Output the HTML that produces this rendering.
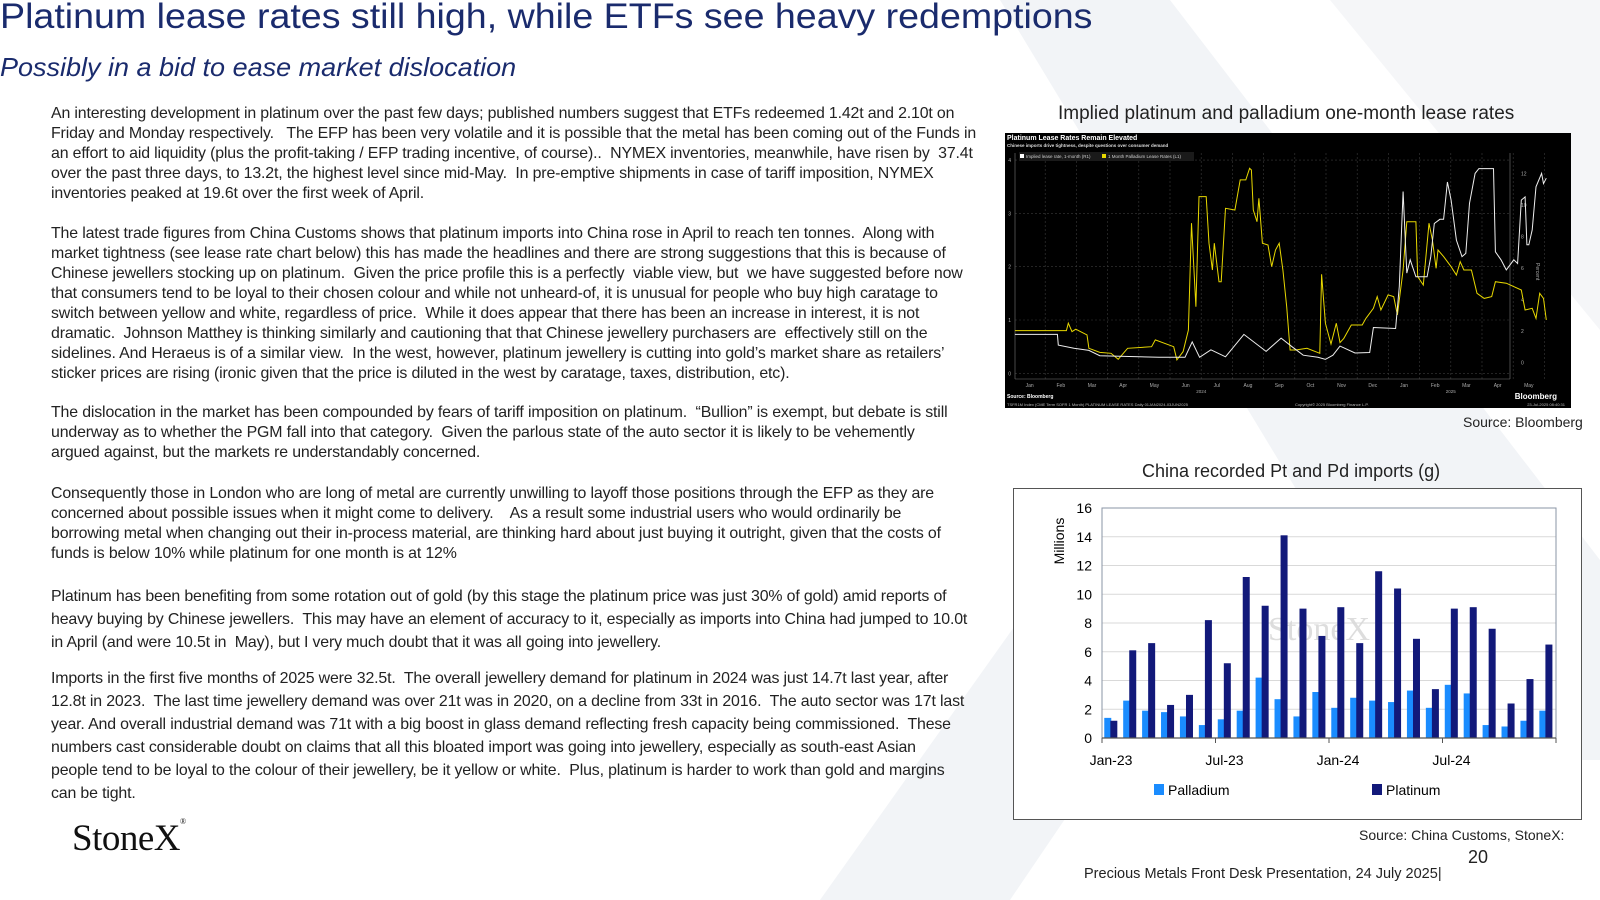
<!DOCTYPE html>
<html><head><meta charset="utf-8">
<style>
html,body{margin:0;padding:0;background:#fff;}
#page{position:relative;width:1600px;height:900px;overflow:hidden;font-family:"Liberation Sans",sans-serif;color:#222;}
.t{position:absolute;white-space:nowrap;transform-origin:0 0;}
.p{position:absolute;left:51px;font-size:15.9px;white-space:nowrap;color:#222;letter-spacing:-0.15px;}
.p div{height:20px;line-height:20px;}
.p.l23 div{height:23px;line-height:23px;}
</style></head>
<body>
<div id="page">
<svg style="position:absolute;left:0;top:0" width="1600" height="900">
<polygon points="1000,0 1170,0 1600,560 1600,760 1460,760" fill="#f2f4f7"/>
<polygon points="820,900 1090,520 1200,620 1010,900" fill="#f2f4f7"/>
<polygon points="1330,0 1600,0 1600,330" fill="#f5f6f8"/>
</svg>
<div class="t" id="title" style="left:0;top:-3px;font-size:35px;color:#1a2b6d;">Platinum lease rates still high, while ETFs see heavy redemptions</div>
<div class="t" id="subtitle" style="left:0;top:52px;font-size:26px;font-style:italic;color:#1a2b6d;">Possibly in a bid to ease market dislocation</div>

<div class="p" style="top:104px">
<div>An interesting development in platinum over the past few days; published numbers suggest that ETFs redeemed 1.42t and 2.10t on</div>
<div>Friday and Monday respectively.&nbsp;&nbsp; The EFP has been very volatile and it is possible that the metal has been coming out of the Funds in</div>
<div>an effort to aid liquidity (plus the profit-taking / EFP trading incentive, of course)..&nbsp; NYMEX inventories, meanwhile, have risen by&nbsp; 37.4t</div>
<div>over the past three days, to 13.2t, the highest level since mid-May.&nbsp; In pre-emptive shipments in case of tariff imposition, NYMEX</div>
<div>inventories peaked at 19.6t over the first week of April.</div>
</div>
<div class="p" style="top:224px">
<div>The latest trade figures from China Customs shows that platinum imports into China rose in April to reach ten tonnes.&nbsp; Along with</div>
<div>market tightness (see lease rate chart below) this has made the headlines and there are strong suggestions that this is because of</div>
<div>Chinese jewellers stocking up on platinum.&nbsp; Given the price profile this is a perfectly&nbsp; viable view, but&nbsp; we have suggested before now</div>
<div>that consumers tend to be loyal to their chosen colour and while not unheard-of, it is unusual for people who buy high caratage to</div>
<div>switch between yellow and white, regardless of price.&nbsp; While it does appear that there has been an increase in interest, it is not</div>
<div>dramatic.&nbsp; Johnson Matthey is thinking similarly and cautioning that that Chinese jewellery purchasers are&nbsp; effectively still on the</div>
<div>sidelines. And Heraeus is of a similar view.&nbsp; In the west, however, platinum jewellery is cutting into gold’s market share as retailers’</div>
<div>sticker prices are rising (ironic given that the price is diluted in the west by caratage, taxes, distribution, etc).</div>
</div>
<div class="p" style="top:403px">
<div>The dislocation in the market has been compounded by fears of tariff imposition on platinum.&nbsp; “Bullion” is exempt, but debate is still</div>
<div>underway as to whether the PGM fall into that category.&nbsp; Given the parlous state of the auto sector it is likely to be vehemently</div>
<div>argued against, but the markets re understandably concerned.</div>
</div>
<div class="p" style="top:484px">
<div>Consequently those in London who are long of metal are currently unwilling to layoff those positions through the EFP as they are</div>
<div>concerned about possible issues when it might come to delivery.&nbsp;&nbsp;&nbsp; As a result some industrial users who would ordinarily be</div>
<div>borrowing metal when changing out their in-process material, are thinking hard about just buying it outright, given that the costs of</div>
<div>funds is below 10% while platinum for one month is at 12%</div>
</div>
<div class="p l23" style="top:585px">
<div>Platinum has been benefiting from some rotation out of gold (by this stage the platinum price was just 30% of gold) amid reports of</div>
<div>heavy buying by Chinese jewellers.&nbsp; This may have an element of accuracy to it, especially as imports into China had jumped to 10.0t</div>
<div>in April (and were 10.5t in&nbsp; May), but I very much doubt that it was all going into jewellery.</div>
</div>
<div class="p l23" style="top:667px">
<div>Imports in the first five months of 2025 were 32.5t.&nbsp; The overall jewellery demand for platinum in 2024 was just 14.7t last year, after</div>
<div>12.8t in 2023.&nbsp; The last time jewellery demand was over 21t was in 2020, on a decline from 33t in 2016.&nbsp; The auto sector was 17t last</div>
<div>year. And overall industrial demand was 71t with a big boost in glass demand reflecting fresh capacity being commissioned.&nbsp; These</div>
<div>numbers cast considerable doubt on claims that all this bloated import was going into jewellery, especially as south-east Asian</div>
<div>people tend to be loyal to the colour of their jewellery, be it yellow or white.&nbsp; Plus, platinum is harder to work than gold and margins</div>
<div>can be tight.</div>
</div>

<div class="t" style="left:72px;top:817px;font-family:'Liberation Serif',serif;font-size:37px;color:#111;letter-spacing:-0.5px;">StoneX<span style="font-size:8px;vertical-align:top;">®</span></div>

<div class="t" style="left:1058px;top:103px;font-size:19px;color:#222;">Implied platinum and palladium one-month lease rates</div>
<div class="t" style="left:1463px;top:414px;font-size:14px;color:#222;">Source: Bloomberg</div>
<div class="t" style="left:1142px;top:461px;font-size:18px;color:#222;">China recorded Pt and Pd imports (g)</div>
<div class="t" style="left:1359px;top:827px;font-size:14px;color:#222;">Source: China Customs, StoneX:</div>
<div class="t" style="left:1468px;top:847px;font-size:18px;color:#222;">20</div>
<div class="t" style="left:1084px;top:866px;font-size:14.5px;color:#222;">Precious Metals Front Desk Presentation, 24 July 2025|</div>

<svg id="lease" style="position:absolute;left:1005px;top:133px" width="566" height="275"></svg>
<svg id="imports" style="position:absolute;left:0;top:0" width="1600" height="900"></svg>
</div>
<script>
// ---------- Lease rate chart data (month index: 0 = Jan 2024) ----------
const ptMonths=[-0.47,0.89,0.92,1.42,1.9,2.25,4.15,4.98,5.21,5.45,5.81,6.28,6.87,7.58,8.06,8.41,8.77,9.24,9.48,9.72,9.95,10.43,10.9,11.02,11.73,11.85,11.97,12.09,12.2,12.38,12.74,12.86,12.97,13.15,13.27,13.39,13.51,13.68,13.86,13.98,14.1,14.28,14.4,14.87,14.93,15.11,15.28,15.52,15.64,15.76,15.88,15.94,16.0,16.11,16.23,16.41,16.47,16.56];
const ptLease=[0.73,0.73,0.53,0.47,0.43,0.33,0.3,0.3,0.59,0.3,0.44,0.31,0.73,0.41,0.66,0.5,0.34,0.3,0.26,0.34,0.51,0.38,0.39,0.86,0.84,1.63,3.41,1.88,2.13,1.81,1.81,2.19,2.81,2.89,2.89,3.59,3.25,2.5,2.19,2.25,3.19,3.75,3.84,3.84,2.28,2.13,1.94,2.13,2.06,3.25,3.31,2.41,2.41,2.69,3.5,3.75,3.56,3.66];
const pdMonths=[-0.47,1.18,1.24,1.36,1.48,1.84,1.9,2.25,2.61,2.84,3.14,3.91,4.03,4.62,4.72,4.92,5.09,5.19,5.33,5.43,5.66,5.75,5.86,5.92,6.07,6.14,6.28,6.58,6.75,6.93,7.05,7.11,7.17,7.29,7.35,7.46,7.64,7.76,7.88,8.0,8.12,8.24,8.35,8.53,8.89,9.3,9.36,9.48,9.66,9.83,9.95,10.07,10.31,10.66,10.78,11.02,11.14,11.26,11.49,11.67,11.79,11.97,12.09,12.38,12.44,12.62,12.8,12.91,13.03,13.09,13.27,13.51,13.68,13.8,13.92,14.16,14.34,14.57,14.81,14.93,15.28,15.76,15.88,16.11,16.23,16.35,16.47,16.56];
const pdLease=[2.01,2.01,2.48,1.95,2.1,1.74,0.89,0.63,0.57,0.19,0.89,0.99,1.42,0.99,0.15,0.68,2.05,8.83,3.53,10.52,10.52,7.56,5.86,7.56,5.12,5.12,9.78,9.67,11.58,11.58,12.32,12.21,9.67,8.93,10.41,7.56,7.45,6.07,7.13,7.56,5.86,3.53,0.78,0.78,0.89,0.57,5.59,2.48,1.16,2.48,1.25,1.52,2.37,2.37,2.79,3.43,4.17,3.32,4.28,4.17,3.01,5.86,8.93,8.93,5.44,4.91,8.83,7.77,5.97,7.13,6.71,6.07,5.54,6.39,5.86,5.86,4.38,4.06,4.17,5.12,5.02,4.59,3.32,3.43,2.79,4.38,4.06,2.69];
const monthLabels=["Jan","Feb","Mar","Apr","May","Jun","Jul","Aug","Sep","Oct","Nov","Dec","Jan","Feb","Mar","Apr","May"];
const leftTicks=[0,1,2,3,4];
const rightTicks=[0,2,4,6,8,10,12];

// ---------- Imports chart data ----------
const importCats=["Jan-23","Feb-23","Mar-23","Apr-23","May-23","Jun-23","Jul-23","Aug-23","Sep-23","Oct-23","Nov-23","Dec-23","Jan-24","Feb-24","Mar-24","Apr-24","May-24","Jun-24","Jul-24","Aug-24","Sep-24","Oct-24","Nov-24","Dec-24"];
const palladium=[1.4,2.6,1.9,1.8,1.5,0.9,1.3,1.9,4.2,2.7,1.5,3.2,2.1,2.8,2.6,2.5,3.3,2.1,3.7,3.1,0.9,0.8,1.2,1.9];
const platinum=[1.2,6.1,6.6,2.3,3.0,8.2,5.2,11.2,9.2,14.1,9.0,7.1,9.1,6.6,11.6,10.4,6.9,3.4,9.0,9.1,7.6,2.4,4.1,6.5];
const yTicks=[0,2,4,6,8,10,12,14,16];
const xTickLabels=["Jan-23","Jul-23","Jan-24","Jul-24"];
const xTickIdx=[0,6,12,18];

const NS="http://www.w3.org/2000/svg";
function mk(parent,tag,attrs,text){const e=document.createElementNS(NS,tag);for(const k in attrs)e.setAttribute(k,attrs[k]);if(text!==undefined)e.textContent=text;parent.appendChild(e);return e;}

(function(){
 const t=document.getElementById('title');t.style.transform='scaleX('+(1092/t.offsetWidth)+')';
 const s=document.getElementById('subtitle');s.style.transform='scaleX('+(516/s.offsetWidth)+')';
})();

// ---------- Lease chart ----------
(function(){
 const g=document.getElementById('lease');
 const r=mk(g,'rect',{x:0,y:0,width:566,height:275,fill:'#000'});
 
 
 const X=m=>24.6+31.2*m;
 const YL=v=>240.3-53.3*v;
 const YR=v=>229.3-15.75*v;
 monthLabels.forEach((lab,i)=>{
  const x=X(i)+15.6;
  mk(g,'line',{x1:x,x2:x,y1:20,y2:246,stroke:'#3a3a3a','stroke-dasharray':'2,2','stroke-width':0.6});
  const tl=mk(g,'text',{x:X(i),y:254,fill:'#aaa','font-size':5,'text-anchor':'middle'},lab);
  
  
 });
 mk(g,'text',{x:X(5.5),y:260,fill:'#aaa','font-size':4.5,'text-anchor':'middle'},'2024');
 mk(g,'text',{x:X(13.5),y:260,fill:'#aaa','font-size':4.5,'text-anchor':'middle'},'2025');
 leftTicks.forEach(v=>{
  mk(g,'line',{x1:10,x2:505,y1:YL(v),y2:YL(v),stroke:'#3a3a3a','stroke-dasharray':'2,2','stroke-width':0.6});
  const tl=mk(g,'text',{x:6,y:YL(v)+2,fill:'#aaa','font-size':5,'text-anchor':'end'},v);
  
  
 });
 rightTicks.forEach(v=>{
  const tl=mk(g,'text',{x:516,y:YR(v)+2,fill:'#aaa','font-size':5},v);
  
  
 });
 mk(g,'line',{x1:10,x2:10,y1:20,y2:246,stroke:'#777','stroke-width':0.6});
 mk(g,'line',{x1:505,x2:505,y1:20,y2:246,stroke:'#777','stroke-width':0.6});
 mk(g,'line',{x1:10,x2:505,y1:246,y2:246,stroke:'#777','stroke-width':0.6});
 mk(g,'text',{x:531,y:130,fill:'#aaa','font-size':5,transform:'rotate(90 531 130)'},'Percent');
 const t1=mk(g,'text',{x:2,y:7,fill:'#fff','font-size':7,'font-weight':'bold'},'Platinum Lease Rates Remain Elevated');
 
 
 mk(g,'text',{x:2,y:14,fill:'#ddd','font-size':4.5,'font-weight':'bold'},'Chinese imports drive tightness, despite questions over consumer demand');
 mk(g,'rect',{x:14,y:19,width:175,height:9,fill:'#1a1a1a'});
 mk(g,'rect',{x:15,y:21,width:4,height:4,fill:'#fff'});
 mk(g,'text',{x:21,y:25,fill:'#ccc','font-size':4.5},'Implied lease rate, 1-month (R1)');
 mk(g,'rect',{x:97,y:21,width:4,height:4,fill:'#e8d800'});
 mk(g,'text',{x:103,y:25,fill:'#ccc','font-size':4.5},'1 Month Palladium Lease Rates (L1)');
 mk(g,'text',{x:2,y:265,fill:'#fff','font-size':5,'font-weight':'bold'},'Source: Bloomberg');
 mk(g,'text',{x:2,y:273,fill:'#bbb','font-size':4},'TSFR1M Index (CME Term SOFR 1 Month) PLATINUM LEASE RATES  Daily 01JAN2024-03JUN2025');
 mk(g,'text',{x:290,y:273,fill:'#bbb','font-size':4},'Copyright© 2025 Bloomberg Finance L.P.');
 mk(g,'text',{x:560,y:273,fill:'#bbb','font-size':4,'text-anchor':'end'},'23-Jul-2025 08:40:31');
 mk(g,'text',{x:552,y:266,fill:'#fff','font-size':8,'font-weight':'bold','text-anchor':'end'},'Bloomberg');
 const pdP=pdMonths.map((m,i)=>X(m).toFixed(1)+','+YR(pdLease[i]).toFixed(1)).join(' ');
 const l1=mk(g,'polyline',{points:pdP,fill:'none',stroke:'#e8d800','stroke-width':1});
 
 
 const ptP=ptMonths.map((m,i)=>X(m).toFixed(1)+','+YL(ptLease[i]).toFixed(1)).join(' ');
 const l2=mk(g,'polyline',{points:ptP,fill:'none',stroke:'#eee','stroke-width':1});
 
 
})();

// ---------- Imports chart ----------
(function(){
 const g=document.getElementById('imports');
 const box=mk(g,'rect',{x:1013.5,y:488.5,width:568,height:331,fill:'#fff',stroke:'#555','stroke-width':1});
 
 
 const L=1102,R=1556,T=508,B=738,max=16;
 const cw=(R-L)/importCats.length;
 const Y=v=>B-(B-T)*v/max;
 mk(g,'text',{x:1268,y:640,fill:'#ddd','font-family':'Liberation Serif,serif','font-size':34},'StoneX');
 yTicks.forEach(v=>{
  if(v>0&&v<16) mk(g,'line',{x1:L,x2:R,y1:Y(v),y2:Y(v),stroke:'#d9d9d9','stroke-width':1});
  const t=mk(g,'text',{x:L-10,y:Y(v)+5,fill:'#000','font-size':14,'text-anchor':'end'},v);
  
  
 });
 const yt=mk(g,'text',{x:1064,y:541,fill:'#000','font-size':14,'text-anchor':'middle',transform:'rotate(-90 1064 541)'},'Millions');
 
 
 mk(g,'rect',{x:L,y:T,width:R-L,height:B-T,fill:'none',stroke:'#8a94a6','stroke-width':1});
 importCats.forEach((c,i)=>{
  const x0=L+i*cw;
  const b1=mk(g,'rect',{x:x0+cw*0.12,y:Y(palladium[i]),width:cw*0.37,height:B-Y(palladium[i]),fill:'#1a8cff'});
  
  
  const b2=mk(g,'rect',{x:x0+cw*0.44,y:Y(platinum[i]),width:cw*0.37,height:B-Y(platinum[i]),fill:'#12197a'});
  
  
 });
 mk(g,'line',{x1:L,x2:R,y1:B,y2:B,stroke:'#555','stroke-width':1.2});
 [0,6,12,18,24].forEach(i=>mk(g,'line',{x1:L+i*cw,x2:L+i*cw,y1:B,y2:B+5,stroke:'#555'}));
 xTickLabels.forEach((lab,k)=>{
  const t=mk(g,'text',{x:L+xTickIdx[k]*cw+9,y:765,fill:'#000','font-size':14,'text-anchor':'middle'},lab);
  
  
 });
 const lg1=mk(g,'rect',{x:1154,y:784,width:10,height:11,fill:'#1a8cff'});
 
 
 const lt1=mk(g,'text',{x:1168,y:795,fill:'#000','font-size':14},'Palladium');
 
 
 const lg2=mk(g,'rect',{x:1372,y:784,width:10,height:11,fill:'#12197a'});
 
 
 const lt2=mk(g,'text',{x:1386,y:795,fill:'#000','font-size':14},'Platinum');
 
 
})();
</script>
</body></html>
